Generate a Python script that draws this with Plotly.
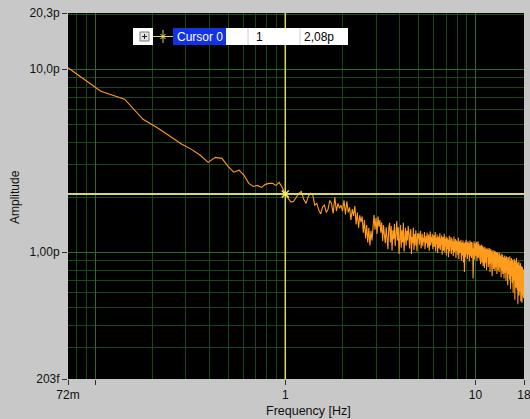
import numpy as np
import plotly.graph_objects as go

# ---- spectrum data -------------------------------------------------------
# frequency bins: k * DF, starting at bin FIRST_BIN
DF = 1.0 / 28.0          # Hz
FIRST_BIN = 2

# amplitude in pA, per frequency bin
amp_below_1hz = [10.25, 7.58, 6.86, 5.33, 4.76, 4.25, 3.89, 3.65, 3.39, 3.10,
                 3.30, 3.26, 2.95, 2.74, 2.81, 2.63, 2.38, 2.29, 2.32, 2.26,
                 2.35, 2.38, 2.38, 2.32, 2.41, 2.26, 2.08]
amp_1_to_1p7 = [1.97, 1.88, 1.90, 2.00, 2.10, 2.15, 1.95, 1.85, 2.02, 2.10,
                2.07, 1.81, 1.85, 1.70, 1.62, 1.77, 1.81, 1.65, 1.72, 1.92]
amp_1p7_to_2p9 = [1.85, 1.63, 2.00, 1.68, 1.85, 1.74, 1.81, 1.68,
                  1.92, 1.61, 1.90, 1.65, 1.76, 1.50, 1.72, 1.58,
                  1.79, 1.42, 1.65, 1.36, 1.59, 1.46, 1.57, 1.28,
                  1.50, 1.19, 1.41, 1.13, 1.36, 1.09, 1.31, 1.16]
amp_2p9_to_5 = [1.48, 1.60, 1.33, 1.54, 1.26, 1.57, 1.38, 1.50,
                1.28, 1.46, 1.15, 1.41, 1.24, 1.12, 1.37, 1.19, 1.04, 1.36,
                1.45, 1.13, 1.39, 1.02, 1.32, 1.18, 1.43, 1.08, 1.34,
                1.48, 1.16, 1.37, 0.98, 1.29, 1.41, 1.06, 1.32, 1.13, 1.45,
                1.01, 1.26, 1.36, 1.09, 1.31, 1.16, 1.39,
                1.29, 1.05, 1.24, 1.34, 0.98, 1.21, 1.12, 1.36, 1.03, 1.26,
                1.09, 1.32, 1.15, 1.01, 1.27, 1.19]
amp_5_to_10 = [1.27, 1.10, 1.22, 1.31, 1.05, 1.18, 1.26, 1.08, 1.20, 1.14, 1.29, 1.04, 1.17, 1.23,
               1.12, 1.28, 1.06, 1.19, 1.25, 1.02, 1.15, 1.30, 1.09, 1.21, 1.13, 1.26, 1.04, 1.18,
               1.24, 1.07, 1.16, 1.29, 1.01, 1.20, 1.11, 1.25, 0.99, 1.14, 1.22, 1.05, 1.17, 1.27,
               1.03, 1.19, 1.10, 1.24, 0.97, 1.15, 1.21, 1.02, 1.13, 1.26, 1.00, 1.18, 1.08, 1.22,
               0.96, 1.14, 1.20, 1.04, 1.17, 0.94, 1.11, 1.23, 1.01, 1.16, 1.07, 1.21, 0.98, 1.12,
               1.19, 1.03, 1.15, 0.95, 1.10, 1.22, 1.00, 1.13, 1.06, 1.18, 0.93, 1.09, 1.16, 1.02,
               1.14, 0.97, 1.11, 1.20, 0.92, 1.07, 1.15, 0.99, 1.12, 1.04, 1.17, 0.90, 1.08, 1.13,
               0.96, 1.10, 1.16, 0.88, 1.05, 1.12, 0.78, 1.01, 1.14, 0.94, 1.08, 1.17, 0.98, 1.06,
               1.13, 0.92, 1.09, 1.15, 0.97, 1.04, 1.12, 0.89, 1.07, 1.16, 0.95, 1.10, 1.02, 1.14,
               0.93, 1.08, 1.13, 0.97, 1.05, 0.72, 1.11, 0.99, 1.15, 0.91, 1.06, 1.12, 0.96, 1.09]
amp_10_to_18 = [1.12, 0.95, 1.06, 1.14, 0.90, 1.03, 1.10, 0.98, 1.15, 0.93, 1.05, 1.11, 0.97, 1.08,
                0.91, 1.04, 1.09, 0.86, 1.01, 1.07, 0.94, 1.10, 0.88, 1.02, 0.96, 1.08, 0.84, 0.99,
                1.06, 0.90, 1.03, 0.82, 0.97, 1.07, 0.92, 1.00, 0.87, 1.05, 0.95, 0.80, 0.99, 1.04,
                0.89, 1.01, 0.94, 1.06, 0.83, 0.98, 1.03, 0.86, 0.96, 1.05, 0.91, 0.78, 1.00, 0.93,
                1.04, 0.88, 0.97, 1.02, 0.84, 0.95, 0.74, 1.00, 0.90, 1.03, 0.86, 0.96, 0.81, 0.99,
                0.92, 1.02, 0.85, 0.97, 0.79, 0.94, 1.01, 0.87, 0.96, 0.83, 1.00, 0.89, 0.76, 0.95,
                0.98, 0.84, 0.93, 1.00, 0.80, 0.91, 0.86, 0.97, 0.78, 0.92, 0.99, 0.83, 0.94, 0.88,
                0.96, 0.81, 0.90, 0.73, 0.95, 0.87, 0.98, 0.79, 0.91, 0.85, 0.97, 0.76, 0.89, 0.93,
                0.82, 0.94, 0.86, 0.72, 0.92, 0.80, 0.96, 0.84, 0.89, 0.77, 0.93, 0.85, 0.70, 0.90,
                0.95, 0.79, 0.88, 0.83, 0.94, 0.75, 0.87, 0.66, 0.91, 0.81, 0.86, 0.94, 0.76, 0.89,
                0.82, 0.92, 0.71, 0.86, 0.95, 0.78, 0.84, 0.63, 0.90, 0.80, 0.87, 0.74, 0.93, 0.83,
                0.77, 0.89, 0.68, 0.85, 0.91, 0.73, 0.82, 0.60, 0.88, 0.79, 0.84, 0.70, 0.92, 0.81,
                0.74, 0.86, 0.55, 0.83, 0.90, 0.69, 0.80, 0.76, 0.87, 0.64, 0.82, 0.93, 0.72, 0.85,
                0.78, 0.62, 0.84, 0.71, 0.88, 0.52, 0.79, 0.86, 0.67, 0.81, 0.74, 0.89, 0.58, 0.83,
                0.76, 0.66, 0.85, 0.70, 0.80, 0.61, 0.87, 0.73, 0.54, 0.82, 0.68, 0.78, 0.84, 0.64,
                0.79, 0.53, 0.72, 0.83, 0.65, 0.77, 0.58, 0.81, 0.69, 0.74, 0.56, 0.80, 0.67, 0.73]

amplitude = (amp_below_1hz + amp_1_to_1p7 + amp_1p7_to_2p9 + amp_2p9_to_5
             + amp_5_to_10 + amp_10_to_18)
freq = DF * np.arange(FIRST_BIN, FIRST_BIN + len(amplitude))

# cursor readout
CURSOR_NAME = "Cursor 0"
CURSOR_X = 1.0      # Hz
CURSOR_Y = 2.08     # pA

# ---- axes ----------------------------------------------------------------
X_RANGE = [0.072, 18.0]
Y_RANGE = [0.203, 20.3]
x_tick_vals = [0.072, 0.1, 1, 10, 18]
x_tick_text = ["72m", "", "1", "10", "18"]
y_tick_vals = [0.203, 1, 10, 20.3]
y_tick_text = ["203f", "1,00p", "10,0p", "20,3p"]
x_minor_grid = [0.08, 0.09, 0.2, 0.3, 0.4, 0.5, 0.6, 0.7, 0.8, 0.9,
                2, 3, 4, 5, 6, 7, 8, 9]
y_minor_grid = [0.3, 0.4, 0.5, 0.6, 0.7, 0.8, 0.9,
                2, 3, 4, 5, 6, 7, 8, 9, 20]

FONT = "Liberation Sans"
PANEL = "#c8c8c8"
GRID_MAJOR = "#2a6c2a"
GRID_MINOR = "#1a471a"
TRACE = "#ff9c1e"
CURSOR = "#d8d862"

# plot-area placement in pixels
W, H = 530, 419
PLOT_L, PLOT_R, PLOT_T, PLOT_B = 68, 524, 13, 379


def px_x(px):
    return (px - PLOT_L) / (PLOT_R - PLOT_L)


def px_y(py):
    return (PLOT_B - py) / (PLOT_B - PLOT_T)


fig = go.Figure()

fig.add_trace(go.Scatter(
    x=freq, y=amplitude, mode="lines",
    line=dict(color=TRACE, width=1.1),
    hoverinfo="skip", showlegend=False,
))

# cursor cross-hair
fig.add_trace(go.Scatter(
    x=[CURSOR_X, CURSOR_X], y=Y_RANGE, mode="lines",
    line=dict(color=CURSOR, width=1.5), hoverinfo="skip", showlegend=False,
))
fig.add_trace(go.Scatter(
    x=X_RANGE, y=[CURSOR_Y, CURSOR_Y], mode="lines",
    line=dict(color=CURSOR, width=2), hoverinfo="skip", showlegend=False,
))
fig.add_trace(go.Scatter(
    x=[CURSOR_X], y=[CURSOR_Y], mode="markers",
    marker=dict(symbol="x-thin", size=7, line=dict(color="#f4f060", width=1.5)),
    hoverinfo="skip", showlegend=False,
))

axis_common = dict(
    type="log", tickmode="array", ticks="outside", ticklen=5, tickwidth=1,
    tickcolor="#303030", showline=False, zeroline=False,
    showgrid=True, gridcolor=GRID_MAJOR, gridwidth=1,
    ticklabeloverflow="allow", automargin=False,
    tickfont=dict(family=FONT, size=12, color="#101010"),
)

fig.update_xaxes(
    **axis_common,
    range=[np.log10(X_RANGE[0]), np.log10(X_RANGE[1])],
    tickvals=x_tick_vals, ticktext=x_tick_text,
    minor=dict(tickmode="array", tickvals=x_minor_grid, showgrid=True,
               gridcolor=GRID_MINOR, gridwidth=1, ticks=""),
)
fig.update_yaxes(
    **axis_common,
    range=[np.log10(Y_RANGE[0]), np.log10(Y_RANGE[1])],
    tickvals=y_tick_vals, ticktext=y_tick_text,
    minor=dict(tickmode="array", tickvals=y_minor_grid, showgrid=True,
               gridcolor=GRID_MINOR, gridwidth=1, ticks=""),
)

# ---- cursor legend box ---------------------------------------------------
box_top, box_bot = 28, 45
box_mid = (box_top + box_bot) / 2


def rect(x0, x1, y0, y1, fill, line=None, lw=0):
    return dict(type="rect", xref="paper", yref="paper",
                x0=px_x(x0), x1=px_x(x1), y0=px_y(y1), y1=px_y(y0),
                fillcolor=fill, line=dict(color=line or fill, width=lw),
                layer="above")


def seg(x0, y0, x1, y1, color, width=1):
    return dict(type="line", xref="paper", yref="paper",
                x0=px_x(x0), x1=px_x(x1), y0=px_y(y0), y1=px_y(y1),
                line=dict(color=color, width=width), layer="above")


shapes = [
    rect(133, 348, box_top, box_bot, "white"),
    rect(153, 173, box_top, box_bot, "black"),
    rect(173, 226, box_top, box_bot, "#1232e6"),
    seg(248, box_top, 248, box_bot, "#d0d0d0"),
    seg(300, box_top, 300, box_bot, "#d0d0d0"),
    # expand button
    rect(140, 149, 32, 41, "#e4e4e4", "#7a7a7a", 1),
    seg(142, 36.5, 147, 36.5, "#202020"),
    seg(144.5, 34, 144.5, 39, "#202020"),
    # cursor style icon
    seg(153, box_mid, 173, box_mid, CURSOR),
    seg(163, 30, 163, 43, CURSOR),
    seg(160.5, 34, 165.5, 39, "#f4f060"),
    seg(160.5, 39, 165.5, 34, "#f4f060"),
]

y_text = f"{CURSOR_Y:.2f}p".replace(".", ",")
x_text = f"{CURSOR_X:g}".replace(".", ",")

annotations = [
    dict(text=CURSOR_NAME, x=px_x(175), y=px_y(box_mid), xanchor="left",
         font=dict(family=FONT, size=12, color="white")),
    dict(text=x_text, x=px_x(254), y=px_y(box_mid), xanchor="left",
         font=dict(family=FONT, size=12, color="black")),
    dict(text=y_text, x=px_x(302), y=px_y(box_mid), xanchor="left",
         font=dict(family=FONT, size=12, color="black")),
    # axis names
    dict(text="Frequency [Hz]", x=px_x(308), y=px_y(411),
         font=dict(family=FONT, size=12.5, color="#101010")),
    dict(text="Amplitude", x=px_x(15), y=px_y(197), textangle=-90,
         font=dict(family=FONT, size=12, color="#101010")),
]
for a in annotations:
    a.update(xref="paper", yref="paper", showarrow=False, yanchor="middle")
    a.setdefault("xanchor", "center")

fig.update_layout(
    width=W, height=H,
    margin=dict(l=PLOT_L, r=W - PLOT_R, t=PLOT_T, b=H - PLOT_B),
    paper_bgcolor=PANEL, plot_bgcolor="black",
    shapes=shapes, annotations=annotations,
    showlegend=False,
)

fig.write_html("out.html")
